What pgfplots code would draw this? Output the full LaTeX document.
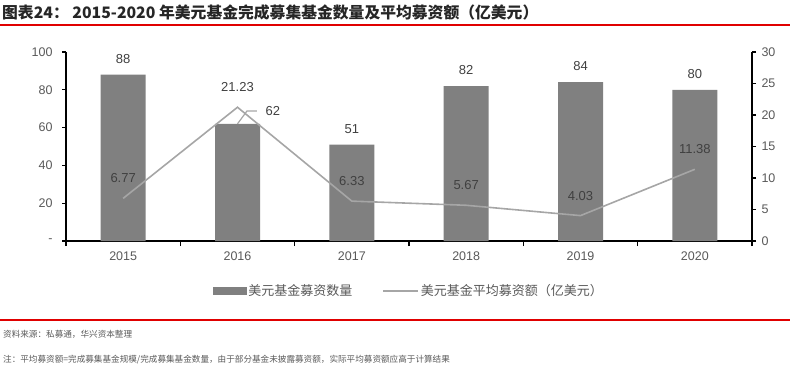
\documentclass[border=0pt]{standalone}
\usepackage{fontspec}
\setmainfont{Liberation Sans}
\newfontfamily\cjk{Noto Sans CJK SC}
\usepackage{pgfplots}
\usepackage{pgfplotstable}
\pgfplotsset{compat=1.18}
\definecolor{barc}{HTML}{808080}
\definecolor{linec}{HTML}{A6A6A6}
\definecolor{tickc}{HTML}{595959}
\definecolor{labc}{HTML}{404040}
\definecolor{redl}{HTML}{E00000}
\pgfplotstableread{
x n lab
0 88 88
1 62 {}
2 51 51
3 82 82
4 84 84
5 80 80
}\bars
\pgfplotstableread{
x a
0 6.77
1 21.23
2 6.33
3 5.67
4 4.03
5 11.38
}\avg
\pgfplotsset{base/.style={
  scale only axis, width=686bp, height=189bp,
  xmin=-0.5, xmax=5.5,
  at={(66bp,-241bp)}, anchor=south west,
  axis line style={black, line width=1.5bp, -},
  tick style={black, line width=1.2bp},
  tick align=outside,
  major tick length=4bp,
  ticklabel style={text=tickc, font=\fontsize{12.5bp}{14bp}\selectfont},
  /pgf/number format/assume math mode=true,
  clip=false,
}}
\begin{document}
\begin{tikzpicture}
\path[use as bounding box] (0,0) rectangle (790bp,-378bp);
\begin{axis}[base,
  axis y line*=left, axis x line*=bottom,
  ymin=0, ymax=100, ytick={0,20,...,100},
  yticklabels={-,20,40,60,80,100},
  yticklabel style={xshift=-6bp},
  xtick={0,...,5}, xticklabels={2015,2016,2017,2018,2019,2020},
  major x tick style={draw=none},
  xticklabel style={yshift=-3bp},
  minor xtick={-0.5,0.5,...,5.5},
  minor tick length=5bp,
  minor x tick style={black, line width=1.2bp},
]
\addplot[ybar, bar width=45bp, fill=barc, draw=none,
  point meta=explicit symbolic,
  nodes near coords,
  every node near coord/.append style={text=labc, font=\fontsize{13bp}{15bp}\selectfont, anchor=center, yshift=16bp}]
  table[x=x, y=n, meta=lab] {\bars};
\draw[linec, line width=1.2bp] (axis cs:1,62) -- (axis cs:1.083,68.8) -- (axis cs:1.17,68.8);
\node[text=labc, font=\fontsize{13bp}{15bp}\selectfont] at (axis cs:1.31,68.8) {62};
\end{axis}
\begin{axis}[base,
  axis y line*=right, axis x line=none,
  ymin=0, ymax=30, ytick={0,5,...,30},
  yticklabel style={xshift=2bp},
  legend columns=2,
  legend style={draw=none, at={(0.5,-0.265)}, anchor=center,
    font=\cjk\fontsize{13bp}{15bp}\selectfont, text=tickc,
    /tikz/every even column/.append style={column sep=28bp}},
]
\addlegendimage{legend image code/.code={\fill[barc] (0bp,-3.5bp) rectangle (33bp,3.5bp);}}
\addlegendentry{美元基金募资数量}
\addplot[linec, line width=1.6bp, mark=none,
  legend image code/.code={\draw[linec, line width=1.6bp] (0bp,0bp)--(35bp,0bp);},
  nodes near coords,
  nodes near coords={\pgfmathprintnumber[fixed, precision=2, fixed zerofill]{\pgfplotspointmeta}},
  every node near coord/.append style={text=labc, font=\fontsize{13bp}{15bp}\selectfont, anchor=center, yshift=20bp}]
  table[x=x, y=a] {\avg};
\addlegendentry{美元基金平均募资额（亿美元）}
\end{axis}
\node[anchor=west, inner sep=0pt, font=\cjk\bfseries\fontsize{15.8bp}{18bp}\selectfont, text=black!85] at (2bp,-12bp) {图表24： 2015-2020 年美元基金完成募集基金数量及平均募资额（亿美元）};
\draw[redl, line width=2bp] (0,-25bp) -- (790bp,-25bp);
\draw[redl, line width=2bp] (0,-320bp) -- (790bp,-320bp);
\node[anchor=west, inner sep=0pt, font=\cjk\fontsize{8.6bp}{10bp}\selectfont, text=tickc] at (3bp,-334bp) {资料来源：私募通，华兴资本整理};
\node[anchor=west, inner sep=0pt, font=\cjk\fontsize{8.6bp}{10bp}\selectfont, text=tickc] at (3bp,-360bp) {注：平均募资额=完成募集基金规模/完成募集基金数量，由于部分基金未披露募资额，实际平均募资额应高于计算结果};
\end{tikzpicture}
\end{document}
